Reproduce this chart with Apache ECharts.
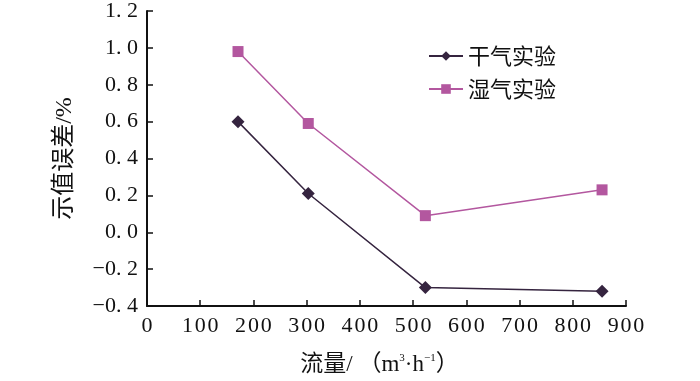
<!DOCTYPE html>
<html><head><meta charset="utf-8">
<script src="https://cdn.jsdelivr.net/npm/echarts@6/dist/echarts.min.js"></script>
<style>html,body{margin:0;padding:0;background:#fff}#c{width:700px;height:381px}</style>
</head><body><div id="c"></div>
<script>
const flowDry = [171, 303, 523, 855];
const errDry = [0.60, 0.21, -0.30, -0.32];
const flowWet = [171, 303, 523, 855];
const errWet = [0.98, 0.59, 0.09, 0.23];
const seriesNames = ['干气实验', '湿气实验'];
const xTicks = [0, 100, 200, 300, 400, 500, 600, 700, 800, 900];
const yTicks = [-0.4, -0.2, 0, 0.2, 0.4, 0.6, 0.8, 1.0, 1.2];

const serif = "'Liberation Serif','DejaVu Serif','Noto Sans CJK SC',serif";
const hs = '\u200A';
const spread = s => s.split('').join(hs);
const chart = echarts.init(document.getElementById('c'));
const axisCommon = {
  axisLine: {show: true, onZero: false, lineStyle: {color: '#111', width: 2}},
  axisTick: {show: true, inside: true, length: 6, lineStyle: {color: '#111', width: 1.5}},
  splitLine: {show: false},
};
chart.setOption({
  animation: false,
  grid: {left: 147, right: 74, top: 11, bottom: 74},
  legend: {
    data: seriesNames, orient: 'vertical', left: 423, top: 40, itemGap: 11,
    itemWidth: 34, itemHeight: 12,
    textStyle: {fontSize: 22, color: '#111', fontFamily: "'Noto Sans CJK SC',serif"}
  },
  xAxis: Object.assign({
    type: 'value', min: xTicks[0], max: xTicks[xTicks.length-1], interval: 100,
    name: '{a|流量/ （m}{s|3}{a|·h}{s|−1}{a|）}', nameLocation: 'middle', nameGap: 47,
    nameTextStyle: {padding: [0, 14, 0, 0], rich: {
      a: {fontSize: 23, color: '#111', fontFamily: serif, verticalAlign: 'bottom'},
      s: {fontSize: 11, color: '#111', fontFamily: serif, verticalAlign: 'top', padding: [0,0,12,0]}
    }},
    axisLabel: {fontSize: 22, color: '#111', fontFamily: serif, margin: 9,
      formatter: v => spread(String(v))}
  }, axisCommon),
  yAxis: Object.assign({
    type: 'value', min: yTicks[0], max: yTicks[yTicks.length-1], interval: 0.2,
    name: '示值误差/%', nameLocation: 'middle', nameGap: 70, nameRotate: 90,
    nameTextStyle: {fontSize: 24, color: '#111', fontFamily: serif, padding: [0, 0, 0, 0]},
    axisLabel: {fontSize: 22, color: '#111', fontFamily: serif, margin: 9,
      formatter: v => { const s = Math.abs(v).toFixed(1).replace('.', '. '); return v < -1e-9 ? '−' + s : s; }}
  }, axisCommon),
  series: [
    {name: seriesNames[0], type: 'line', data: flowDry.map((x,i)=>[x, errDry[i]]),
     symbol: 'diamond', symbolSize: 13, color: '#35243f', lineStyle: {width: 1.5}},
    {name: seriesNames[1], type: 'line', data: flowWet.map((x,i)=>[x, errWet[i]]),
     symbol: 'rect', symbolSize: 11, color: '#b3579f', lineStyle: {width: 1.5}}
  ]
});
</script></body></html>
